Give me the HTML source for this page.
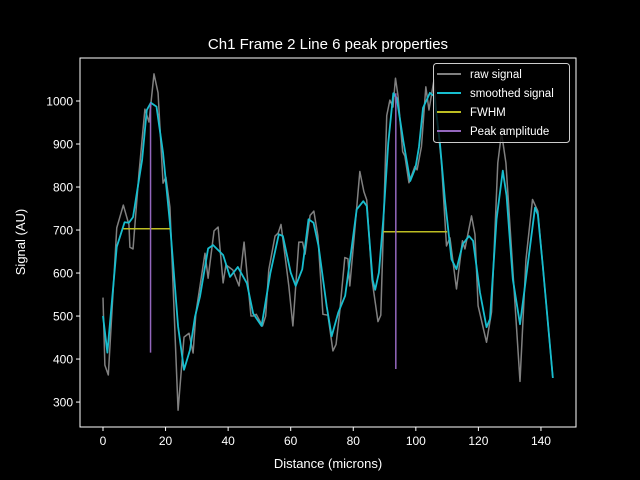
<!DOCTYPE html>
<html><head><meta charset="utf-8"><style>
body{margin:0;background:#000;}
svg{display:block;font-family:"Liberation Sans","DejaVu Sans",sans-serif;}
</style></head><body>
<svg id="chart" width="640" height="480" viewBox="0 0 640 480">
<rect x="0" y="0" width="640" height="480" fill="#000"/>
<text x="328" y="49" fill="#fff" font-size="15" text-anchor="middle">Ch1 Frame 2 Line 6 peak properties</text>
<g id="plot"></g>
<text x="328" y="468" fill="#fff" font-size="13" text-anchor="middle">Distance (microns)</text>
<text transform="translate(25,242) rotate(-90)" fill="#fff" font-size="13" text-anchor="middle">Signal (AU)</text>
</svg>
<script>
const rawX=[0,0.6,1.7,4.4,6.5,8.3,8.6,9.6,11.5,13.4,14.7,16.3,17.6,19.2,20.1,21.4,24,25.9,27.5,28.8,29.7,32.6,33.6,35.5,36.8,38.4,39.3,41.5,43.5,45.1,47.3,48,49,51,52,53,55,56,56.9,58.2,59.4,60.7,62.6,63.8,64.6,66.2,67.4,68.7,70.3,71.9,73.5,74.5,75.7,77.3,78.3,78.9,80.5,82.1,83.4,84.3,86,87.9,88.8,90.7,91.7,92.7,93.5,94.3,95.8,96.5,97.8,99.7,100.4,101.8,103.2,104.2,105.8,106.6,108.2,109.8,110.9,113,114.9,115.7,117.8,118.9,119.9,122.6,124.2,126.2,127.4,128.8,133.3,135.2,137.3,139,143.8];
const rawY=[543,386,363,705,758,712,660,656,832,981,951,1063,1019,809,823,753,281,451,460,414,507,646,588,698,707,577,619,607,570,672,500,500,504,477,500,608,686,693,713,639,570,477,672,672,644,734,744,686,504,502,419,434,512,636,633,570,701,836,789,770,584,487,502,966,1002,986,1053,1012,882,872,810,848,840,894,1033,979,1049,972,856,663,682,563,675,656,733,690,524,439,509,856,926,856,348,631,771,744,356];
const smX=[0,1.4,4.4,6.9,8.3,9.6,12.5,14,15.3,17.1,19.2,21.4,24,25.9,27.8,29.4,31,33.6,35.2,38.4,40.6,43.1,46,48,50.7,53.5,56.2,57.5,60,61.6,63.7,65.7,67.3,68.9,71.5,73.1,75.2,77.4,79,81.1,83.2,84.3,86.2,87,88.2,89.6,91.2,92.8,93.9,96,98.2,99.9,101,102.3,104.5,105.9,107.7,109.3,111.4,113,115,117,118.3,120.5,122.6,123.7,125.8,127.8,129,131,133.3,134.9,138.1,139,140.6,143.8];
const smY=[500,415,661,718,717,730,863,979,996,987,879,716,476,375,421,498,545,657,665,642,591,614,576,506,477,600,690,686,601,570,609,725,717,663,523,453,508,547,632,748,767,756,584,561,601,725,903,1018,1007,907,814,845,893,984,1019,1011,902,771,632,609,667,686,675,555,474,493,725,838,780,586,481,570,752,736,616,356];
const fwhmX1=[6.5,89.6];
const fwhmX2=[21.4,110];
const fwhmY=[703,696];
const peakX=[15.2,93.6];
const peakTop=[996,1018];
const peakBottom=[415,377];
const xTicks=[0,20,40,60,80,100,120,140];
const yTicks=[300,400,500,600,700,800,900,1000];

const L=80,R=576,T=58,B=427,X0=-7.35,X1=151.2,Y0=242,Y1=1100;
const sx=v=>L+(v-X0)/(X1-X0)*(R-L);
const sy=v=>B-(v-Y0)/(Y1-Y0)*(B-T);
const NS="http://www.w3.org/2000/svg";
const g=document.getElementById('plot');
function mk(t,a){const e=document.createElementNS(NS,t);for(const k in a)e.setAttribute(k,a[k]);g.appendChild(e);return e;}

const frame=mk('rect',{x:L,y:T,width:R-L,height:B-T,fill:'none',stroke:'#fff','stroke-width':1});


xTicks.forEach(t=>{
  const ln=mk('line',{x1:sx(t),x2:sx(t),y1:B,y2:B+4,stroke:'#fff'});
  
  
  const tx=mk('text',{x:sx(t),y:B+18,fill:'#fff','font-size':12,'text-anchor':'middle'});
  tx.textContent=t;
  
  
});
yTicks.forEach(t=>{
  const ln=mk('line',{x1:L-4,x2:L,y1:sy(t),y2:sy(t),stroke:'#fff'});
  
  
  const tx=mk('text',{x:L-7,y:sy(t)+4.5,fill:'#fff','font-size':12,'text-anchor':'end'});
  tx.textContent=t;
  
  
});
function poly(xs,ys,col,w){return mk('polyline',{points:xs.map((x,i)=>sx(x)+','+sy(ys[i])).join(' '),fill:'none',stroke:col,'stroke-width':w,'stroke-linejoin':'round'});}
const raw=poly(rawX,rawY,'#808080',1.5);


const sm=poly(smX,smY,'#17becf',1.8);


fwhmY.forEach((y,i)=>{
  const l=mk('line',{x1:sx(fwhmX1[i]),x2:sx(fwhmX2[i]),y1:sy(y),y2:sy(y),stroke:'#bcbd22','stroke-width':1.5});
  
  
});
peakX.forEach((x,i)=>{
  const l=mk('line',{x1:sx(x),x2:sx(x),y1:sy(peakTop[i]),y2:sy(peakBottom[i]),stroke:'#9467bd','stroke-width':1.5});
  
  
});
const leg=mk('rect',{x:433.5,y:63.5,width:136,height:79,rx:3,fill:'#000','fill-opacity':0.8,stroke:'#ccc'});


[['raw signal','#808080'],['smoothed signal','#17becf'],['FWHM','#bcbd22'],['Peak amplitude','#9467bd']].forEach((e,i)=>{
  const y=74+i*19;
  const l=mk('line',{x1:437,x2:461,y1:y,y2:y,stroke:e[1],'stroke-width':2});
  
  
  const t=mk('text',{x:470,y:y+4,fill:'#fff','font-size':11.5});
  t.textContent=e[0];
  
  
});
</script>
</body></html>
